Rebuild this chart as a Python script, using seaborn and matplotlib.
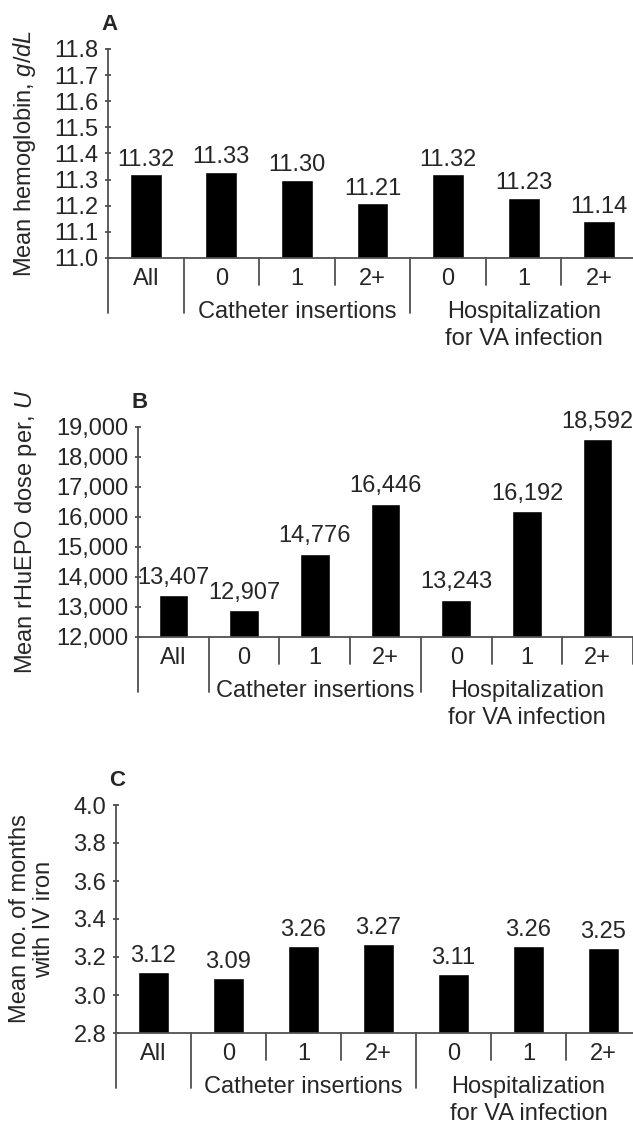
import matplotlib
matplotlib.use("Agg")
import matplotlib.pyplot as plt
import seaborn as sns
from matplotlib.ticker import FuncFormatter, MultipleLocator

# Data
categories = ["All", "C0", "C1", "C2+", "H0", "H1", "H2+"]
tick_labels = ["All", "0", "1", "2+", "0", "1", "2+"]
hemoglobin = [11.32, 11.33, 11.30, 11.21, 11.32, 11.23, 11.14]
epo_dose = [13407, 12907, 14776, 16446, 13243, 16192, 18592]
iv_iron_months = [3.12, 3.09, 3.26, 3.27, 3.11, 3.26, 3.25]

W, H = 633, 1123
sns.set_theme(style="white")
plt.rcParams['font.family'] = ['Liberation Sans', 'DejaVu Sans']
plt.rcParams['mathtext.fontset'] = 'custom'
plt.rcParams['mathtext.rm'] = 'Liberation Sans'
plt.rcParams['mathtext.it'] = 'Liberation Sans:italic'

LINE = '#505050'
LW = 1.3

panels = [
    dict(box=(108, 49, 637, 258), values=hemoglobin, ylim=(11.0, 11.8), step=0.1,
         fmt=lambda v, p: f"{v:.1f}", lab=lambda v: f"{v:.2f}",
         ylabel="Mean hemoglobin, $\\mathit{g/dL}$", label_x=24, letter="A", pad=2.5),
    dict(box=(138, 427, 633, 637), values=epo_dose, ylim=(12000, 19000), step=1000,
         fmt=lambda v, p: f"{v:,.0f}", lab=lambda v: f"{v:,}",
         ylabel="Mean rHuEPO dose per, $\\mathit{U}$", label_x=26, letter="B", pad=4.5),
    dict(box=(116, 805, 641, 1033), values=iv_iron_months, ylim=(2.8, 4.0), step=0.2,
         fmt=lambda v, p: f"{v:.1f}", lab=lambda v: f"{v:.2f}",
         ylabel="Mean no. of months\nwith IV iron", label_x=32, letter="C", pad=3.5),
]

fig = plt.figure(figsize=(W / 100, H / 100), dpi=100)

for p in panels:
    l, t, r, b = p['box']
    ax = fig.add_axes([l / W, 1 - b / H, (r - l) / W, (b - t) / H])
    sns.barplot(x=categories, y=p['values'], color='black', saturation=1,
                width=0.42, ax=ax, order=categories)
    ax.set_xlim(-0.5, 6.5)
    ax.set_ylim(*p['ylim'])
    ax.yaxis.set_major_locator(MultipleLocator(p['step']))
    ax.yaxis.set_major_formatter(FuncFormatter(p['fmt']))
    ax.set_xticks(range(len(categories)))
    ax.set_xticklabels(tick_labels)
    ax.tick_params(axis='x', length=0, pad=7, labelsize=17)
    ax.tick_params(axis='y', direction='inout', length=5, width=LW, color=LINE,
                   pad=4.5, labelsize=17, left=True)
    for s in ['top', 'right']:
        ax.spines[s].set_visible(False)
    for s in ['left', 'bottom']:
        ax.spines[s].set_color(LINE)
        ax.spines[s].set_linewidth(LW)

    # value labels on bars
    ax.bar_label(ax.containers[0], labels=[p['lab'](v) for v in p['values']],
                 padding=p['pad'], fontsize=17)

    # separators below the baseline
    hpx = b - t
    for x, depth in [(-0.5, 55), (0.5, 55), (1.5, 27), (2.5, 27), (3.5, 55),
                     (4.5, 27), (5.5, 27), (6.5, 27)]:
        ax.plot([x, x], [0, -depth / hpx], color=LINE, lw=LW,
                transform=ax.get_xaxis_transform(), clip_on=False)

    # group labels
    ax.annotate("Catheter insertions", xy=(2, 0), xycoords=ax.get_xaxis_transform(),
                xytext=(0, -54 * 0.72), textcoords='offset points',
                ha='center', va='center', fontsize=17)
    ax.annotate("Hospitalization", xy=(5, 0), xycoords=ax.get_xaxis_transform(),
                xytext=(0, -54 * 0.72), textcoords='offset points',
                ha='center', va='center', fontsize=17)
    ax.annotate("for VA infection", xy=(5, 0), xycoords=ax.get_xaxis_transform(),
                xytext=(0, -81 * 0.72), textcoords='offset points',
                ha='center', va='center', fontsize=17)

    # y label and panel letter
    ax.set_ylabel(p['ylabel'], fontsize=17, va='center', ha='center',
                  linespacing=1.1)
    ax.yaxis.set_label_coords((p['label_x'] - l) / (r - l), 0.5)
    ax.annotate(p['letter'], xy=(0, 1), xycoords='axes fraction',
                xytext=(1, 18), textcoords='offset points',
                ha='center', va='center', fontsize=16, fontweight='bold')

fig.savefig('out.png', dpi=100)
